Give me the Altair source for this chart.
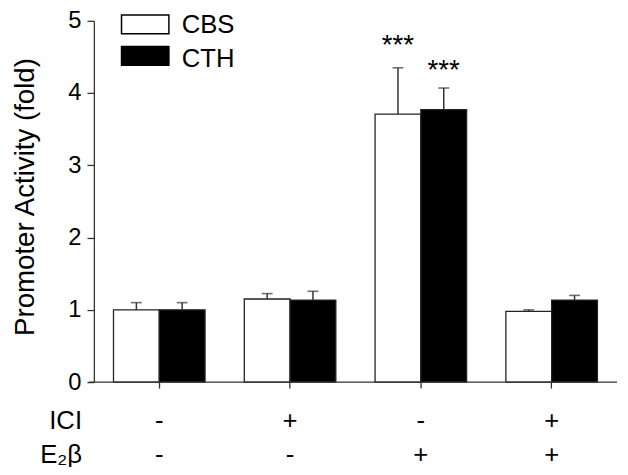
import altair as alt
import pandas as pd

# ---- data ----
groups = ["1", "2", "3", "4"]
series = ["CBS", "CTH"]
cbs_mean = [1.00, 1.15, 3.71, 0.98]
cbs_top = [1.10, 1.225, 4.35, 1.00]
cth_mean = [1.00, 1.135, 3.77, 1.135]
cth_top = [1.10, 1.257, 4.07, 1.20]
cbs_sig = ["", "", "***", ""]
cth_sig = ["", "", "***", ""]
cbs_sig_y = [None, None, 4.76, None]
cth_sig_y = [None, None, 4.41, None]
ici_row = ["-", "+", "-", "+"]
e2b_row = ["-", "-", "+", "+"]
row_names = ["ICI", "E\u2082\u03b2"]
fills = ["white", "black"]
y_ticks = [0, 1, 2, 3, 4, 5]

FONT = "Liberation Sans"
W, H = 530, 366

rows = []
for i, g in enumerate(groups):
    rows.append({"group": g, "series": "CBS", "mean": cbs_mean[i], "top": cbs_top[i],
                 "sig": cbs_sig[i], "sig_y": cbs_sig_y[i]})
    rows.append({"group": g, "series": "CTH", "mean": cth_mean[i], "top": cth_top[i],
                 "sig": cth_sig[i], "sig_y": cth_sig_y[i]})
df = pd.DataFrame(rows)
cond = pd.DataFrame({"group": groups, "ici": ici_row, "e2b": e2b_row})

xenc = alt.X("group:N", sort=groups,
             scale=alt.Scale(paddingInner=0.3, paddingOuter=0.15),
             axis=alt.Axis(labels=False, title=None, domain=False, ticks=True,
                           tickSize=6, tickColor="#333", tickWidth=1.3, grid=False))
xoff = alt.XOffset("series:N", sort=series,
                   scale=alt.Scale(domain=series, paddingInner=0, paddingOuter=0))
yscale = alt.Scale(domain=[0, 5], nice=False)

base = alt.Chart(df)

bars = base.mark_bar(stroke="#222", strokeWidth=1.3).encode(
    x=xenc, xOffset=xoff,
    y=alt.Y("mean:Q", scale=yscale,
            axis=alt.Axis(values=y_ticks, format="d", tickSize=7, tickColor="#333", tickWidth=1.3,
                          domainColor="#333", domainWidth=1.3,
                          labelFontSize=24, labelFont=FONT, labelColor="black", labelPadding=6,
                          title="Promoter Activity (fold)", titleFont=FONT, titleFontSize=28,
                          titleFontWeight="normal", titleColor="black", titleX=-55, titleY=178,
                          grid=False)),
    fill=alt.Fill("series:N", scale=alt.Scale(domain=series, range=fills), legend=None),
)

err = base.mark_rule(color="#333", strokeWidth=1.5).encode(
    x=alt.X("group:N", sort=groups), xOffset=xoff,
    y=alt.Y("mean:Q", scale=yscale), y2="top:Q")

caps = base.mark_tick(color="#333", size=11, thickness=1.6, orient="horizontal").encode(
    x=alt.X("group:N", sort=groups), xOffset=xoff,
    y=alt.Y("top:Q", scale=yscale))

stars = base.transform_filter("datum.sig != ''").mark_text(
    font=FONT, fontSize=28, color="black", baseline="middle", dy=8).encode(
    x=alt.X("group:N", sort=groups), xOffset=xoff,
    y=alt.Y("sig_y:Q", scale=yscale), text="sig:N")

xline = alt.Chart(pd.DataFrame({"a": [0]})).mark_rule(color="#333", strokeWidth=1.3).encode(
    x=alt.value(-5), x2=alt.value(W), y=alt.value(H))

ici_txt = alt.Chart(cond).mark_text(font=FONT, fontSize=26, color="black", baseline="middle").encode(
    x=alt.X("group:N", sort=groups), y=alt.value(H + 39), text="ici:N")
e2b_txt = alt.Chart(cond).mark_text(font=FONT, fontSize=26, color="black", baseline="middle").encode(
    x=alt.X("group:N", sort=groups), y=alt.value(H + 74), text="e2b:N")

rowlab = []
for i, name in enumerate(row_names):
    rowlab.append(alt.Chart(pd.DataFrame({"t": [name]})).mark_text(
        font=FONT, fontSize=26, color="black", baseline="middle", align="right").encode(
        x=alt.value(-12), y=alt.value(H + 39 + 35 * i), text="t:N"))

legend_layers = []
for i, s in enumerate(series):
    d = pd.DataFrame({"series": [s]})
    legend_layers.append(alt.Chart(d).mark_rect(stroke="black", strokeWidth=1.5, fill=fills[i]).encode(
        x=alt.value(28), x2=alt.value(76), y=alt.value(-6 + 32 * i), y2=alt.value(13 + 32 * i)))
    legend_layers.append(alt.Chart(d).mark_text(font=FONT, fontSize=26, color="black",
                                                baseline="middle", align="left").encode(
        x=alt.value(89), y=alt.value(4 + 35 * i), text="series:N"))

chart = alt.layer(bars, err, caps, stars, xline, ici_txt, e2b_txt, *rowlab, *legend_layers).properties(
    width=W, height=H,
    autosize=alt.AutoSizeParams(type="none"),
    padding={"left": 87, "top": 10, "right": 3, "bottom": 83},
    background="white",
).configure_view(stroke=None)

chart.save("out.html", embed_options={"renderer": "svg", "actions": False})
